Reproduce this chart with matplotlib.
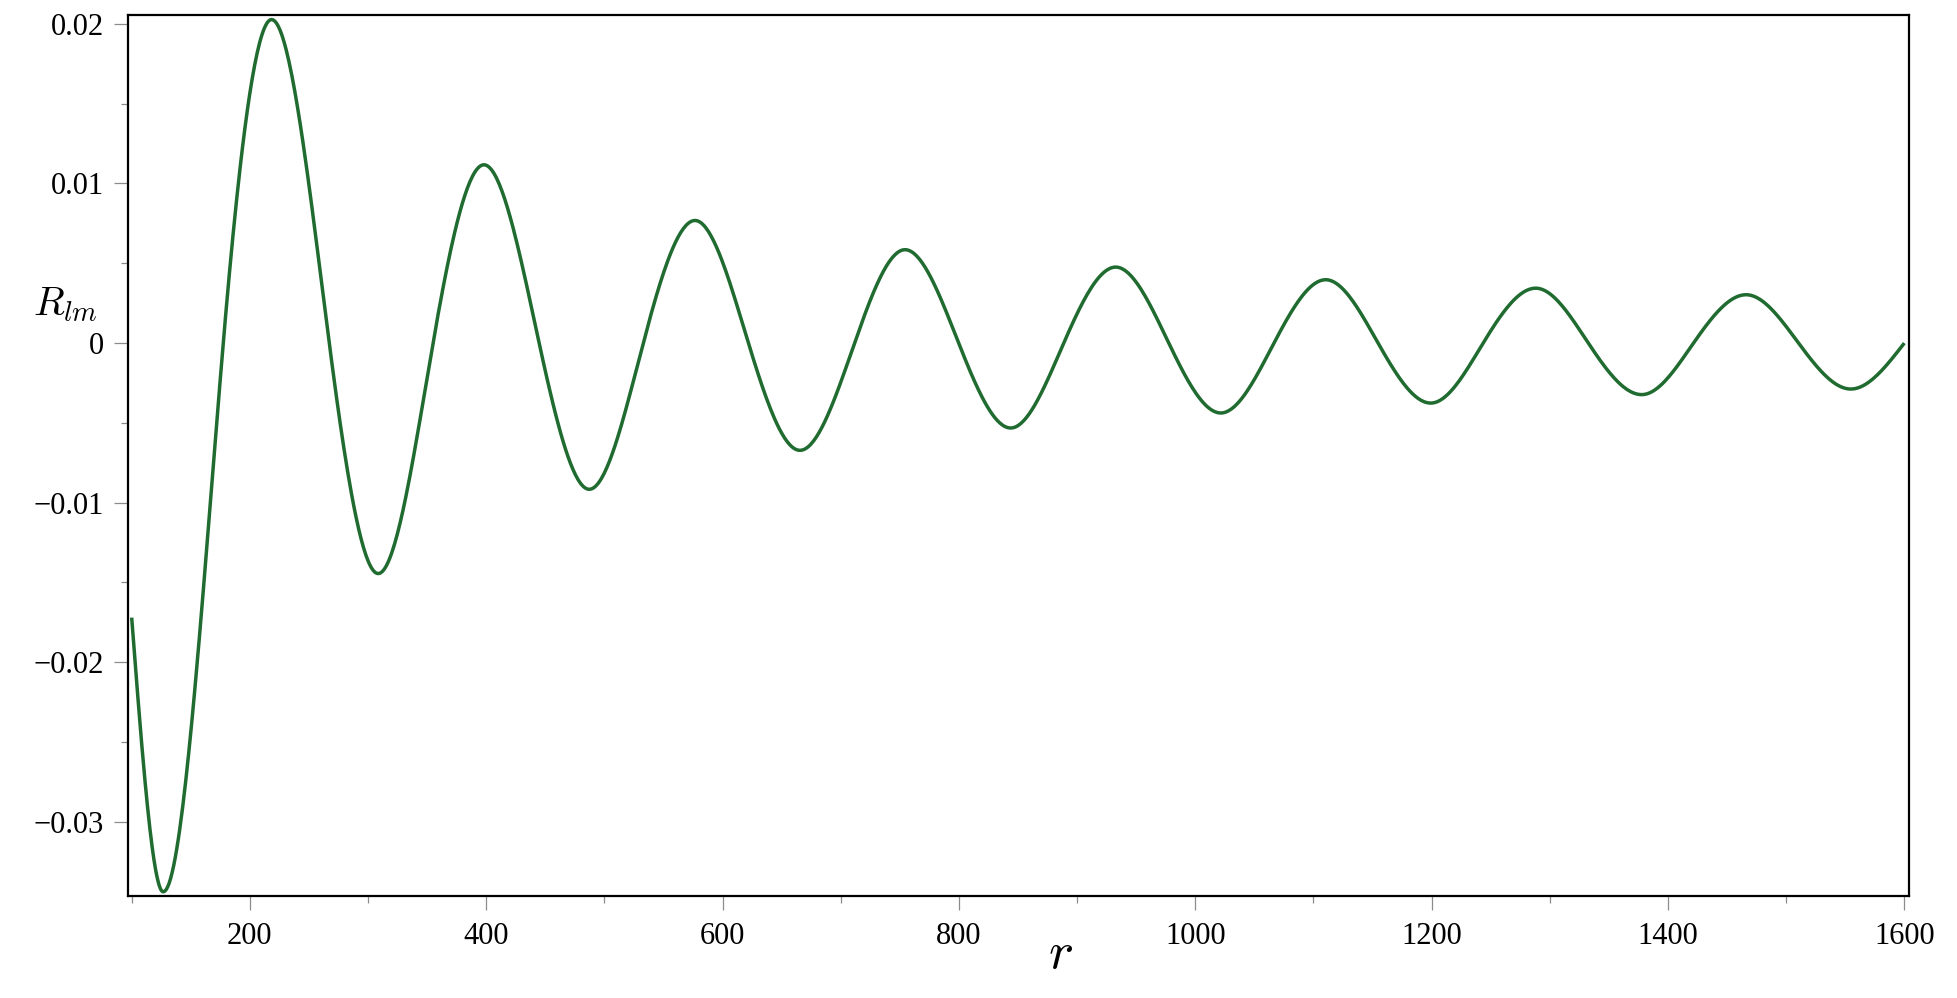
"""
Radial function R_lm vs r
"""
import numpy as np
import matplotlib
matplotlib.use("Agg")
import matplotlib.pyplot as plt
from matplotlib.ticker import MultipleLocator, FuncFormatter

# Key points: start, extrema and zero crossings
r_pts = np.array([100.0, 126.7, 177.5, 218.4, 267.2, 308.6, 355.0, 398.1, 444.8,
                  487.2, 532.9, 576.7, 621.9, 665.5, 711.7, 754.4, 799.8, 843.8,
                  888.7, 932.7, 977.6, 1021.6, 1066.6, 1110.4, 1154.7, 1199.3,
                  1243.6, 1288.1, 1332.6, 1377.8, 1421.6, 1466.1, 1510.5, 1554.7,
                  1600.0])
R_pts = np.array([-0.0172, -0.03438, 0.0, 0.02027, 0.0, -0.01444, 0.0, 0.01117, 0.0,
                  -0.00916, 0.0, 0.00768, 0.0, -0.00672, 0.0, 0.00585, 0.0, -0.00532,
                  0.0, 0.00476, 0.0, -0.00438, 0.0, 0.00397, 0.0, -0.00376,
                  0.0, 0.00344, 0.0, -0.00323, 0.0, 0.00303, 0.0, -0.00288,
                  0.0])

x_ticks = [200, 400, 600, 800, 1000, 1200, 1400, 1600]
y_ticks = [-0.03, -0.02, -0.01, 0.0, 0.01, 0.02]


def smooth_curve(x, y, per_seg=40):
    """Cubic Hermite through the key points, flat at the extrema."""
    n = len(x)
    sec = np.diff(y) / np.diff(x)
    m = np.zeros(n)
    for i in range(n):
        if i == 0:
            m[i] = 1.5 * sec[0]
        elif i == n - 1:
            m[i] = 1.5 * sec[-1]
        elif sec[i - 1] * sec[i] < 0:
            m[i] = 0.0
        else:
            m[i] = 0.75 * (sec[i - 1] + sec[i])
    xs, ys = [], []
    for i in range(n - 1):
        h = x[i + 1] - x[i]
        t = np.linspace(0, 1, per_seg, endpoint=False)
        h00 = 2 * t**3 - 3 * t**2 + 1
        h10 = t**3 - 2 * t**2 + t
        h01 = -2 * t**3 + 3 * t**2
        h11 = t**3 - t**2
        xs.append(x[i] + t * h)
        ys.append(h00 * y[i] + h10 * h * m[i] + h01 * y[i + 1] + h11 * h * m[i + 1])
    xs.append([x[-1]])
    ys.append([y[-1]])
    return np.concatenate(xs), np.concatenate(ys)


plt.rcParams["font.family"] = ["Liberation Serif", "DejaVu Serif"]
plt.rcParams["mathtext.fontset"] = "cm"

fig = plt.figure(figsize=(19.58, 9.98), dpi=100)
ax = fig.add_axes([0.0652, 0.1025, 0.975 - 0.0652, 0.985 - 0.1025])

rx, ry = smooth_curve(r_pts, R_pts)
ax.plot(rx, ry, color="#1f6b30", linewidth=2.5, solid_capstyle="butt")

ax.set_xlim(96.6, 1604.0)
ax.set_ylim(-0.034624, 0.020557)

ax.set_xticks(x_ticks)
ax.set_yticks(y_ticks)
ax.xaxis.set_minor_locator(MultipleLocator(100))
ax.yaxis.set_minor_locator(MultipleLocator(0.005))


def y_fmt(v, pos):
    if abs(v) < 1e-12:
        return "0"
    s = f"{abs(v):.2f}"
    return ("\u2212" + s) if v < 0 else s


ax.yaxis.set_major_formatter(FuncFormatter(y_fmt))

ax.tick_params(which="both", direction="out", color="#8c8c8c", width=0.9,
               labelsize=22, labelcolor="black", top=False, right=False)
ax.tick_params(which="major", length=10)
ax.tick_params(which="minor", length=5)
ax.tick_params(axis="x", pad=9)
ax.tick_params(axis="y", pad=7)

for sp in ax.spines.values():
    sp.set_linewidth(1.6)
    sp.set_color("black")

ax.set_xlabel(r"$r$", fontsize=38)
ax.xaxis.label.set_va("center")
ax.xaxis.set_label_coords(0.5234, -0.0673)

ax.set_ylabel(r"$R_{lm}$", fontsize=29, rotation=0)
ax.yaxis.label.set_va("center")
ax.yaxis.label.set_ha("center")
ax.yaxis.set_label_coords(-0.0352, 0.6707)

fig.savefig("out.png", dpi=100)
